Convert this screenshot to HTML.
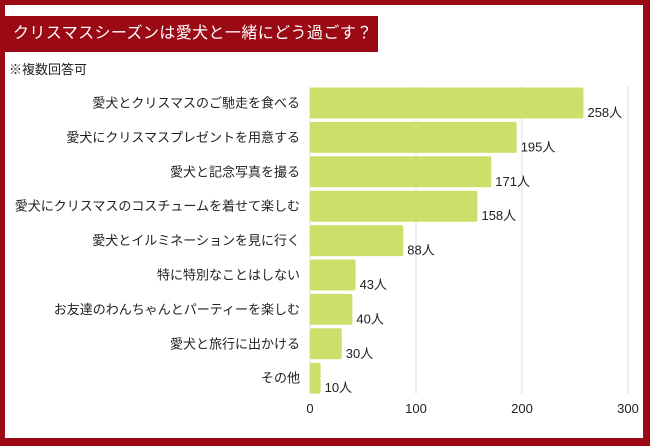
<!DOCTYPE html>
<html><head><meta charset="utf-8"><style>
body{margin:0;width:650px;height:446px;overflow:hidden;background:#9b0a14;font-family:"Liberation Sans","Noto Sans CJK JP",sans-serif}
#panel{position:absolute;left:5px;top:5px;width:638px;height:433px;background:#fff}
#title{position:absolute;left:5px;top:16px;width:373px;height:36px;background:#9b0a14;color:#fff;font-size:16px;letter-spacing:0.4px;line-height:36px;padding-left:8px;box-sizing:border-box;white-space:nowrap;overflow:hidden}
#note{position:absolute;left:9px;top:59px;font-size:13px;color:#222}
svg{position:absolute;left:0;top:0}
</style></head><body>
<div id="panel"></div>
<div id="title">クリスマスシーズンは愛犬と一緒にどう過ごす？</div>
<div id="note">※複数回答可</div>
<svg id="chart" width="650" height="446"></svg>
<script>
const categories=["愛犬とクリスマスのご馳走を食べる","愛犬にクリスマスプレゼントを用意する","愛犬と記念写真を撮る","愛犬にクリスマスのコスチュームを着せて楽しむ","愛犬とイルミネーションを見に行く","特に特別なことはしない","お友達のわんちゃんとパーティーを楽しむ","愛犬と旅行に出かける","その他"];
const values=[258,195,171,158,88,43,40,30,10];
const ticks=[0,100,200,300];
const NS="http://www.w3.org/2000/svg";
const svg=document.getElementById('chart');
const x=v=>310+v*1.06;
const y=i=>103+i*34.4;
function mk(t,a){const e=document.createElementNS(NS,t);for(const k in a)e.setAttribute(k,a[k]);svg.appendChild(e);return e;}
ticks.forEach(t=>{
  const g=mk('line',{x1:x(t),x2:x(t),y1:86,y2:394,stroke:'#ddd','stroke-width':1});
  
  
  const l=mk('text',{x:x(t),y:413,'text-anchor':'middle','font-size':13,fill:'#222'});
  l.textContent=t;
  
  
});
categories.forEach((c,i)=>{
  const b=mk('rect',{x:x(0),y:y(i)-15.5,width:x(values[i])-x(0),height:31,rx:2,fill:'#cbe06a'});
  
  
  const t=mk('text',{x:300,y:y(i)+4.5,'text-anchor':'end','font-size':13,fill:'#222'});
  t.textContent=c;
  
  
  const v=mk('text',{x:x(values[i])+4,y:y(i)+14,'font-size':13,fill:'#222'});
  v.textContent=values[i]+'人';
  
  
});
</script>
</body></html>
